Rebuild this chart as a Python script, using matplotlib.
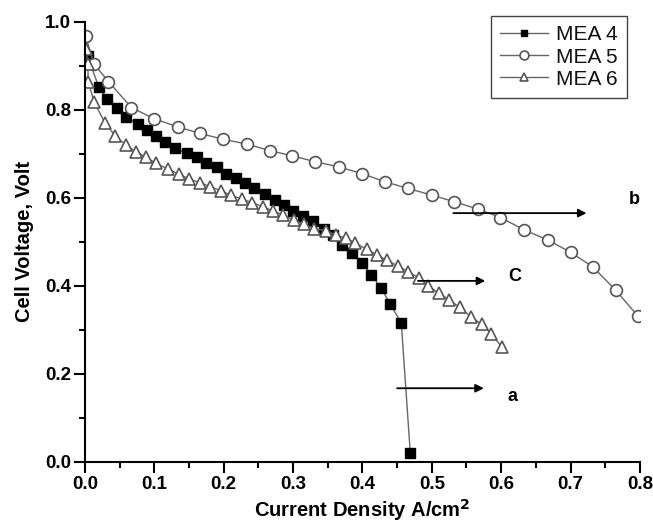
import matplotlib
matplotlib.use("Agg")
import matplotlib.pyplot as plt
from matplotlib.ticker import MultipleLocator

plt.rcParams['font.family'] = ['Liberation Sans', 'DejaVu Sans']

# polarisation curves
mea4_x = [0.004, 0.020, 0.032, 0.046, 0.059, 0.077, 0.089, 0.102, 0.116, 0.130,
          0.147, 0.161, 0.174, 0.191, 0.204, 0.218, 0.231, 0.244, 0.260, 0.274,
          0.287, 0.300, 0.315, 0.329, 0.344, 0.357, 0.370, 0.385, 0.400, 0.413,
          0.427, 0.440, 0.456, 0.469]
mea4_v = [0.921, 0.852, 0.824, 0.803, 0.784, 0.767, 0.754, 0.741, 0.726, 0.712,
          0.701, 0.692, 0.680, 0.669, 0.655, 0.644, 0.633, 0.621, 0.608, 0.595,
          0.583, 0.570, 0.558, 0.548, 0.529, 0.515, 0.493, 0.474, 0.451, 0.424,
          0.395, 0.358, 0.316, 0.020]

mea5_x = [0.001, 0.013, 0.034, 0.067, 0.099, 0.134, 0.166, 0.199, 0.233, 0.267,
          0.299, 0.332, 0.366, 0.399, 0.433, 0.466, 0.500, 0.532, 0.567, 0.599,
          0.633, 0.667, 0.700, 0.732, 0.765, 0.797]
mea5_v = [0.968, 0.904, 0.864, 0.805, 0.780, 0.761, 0.746, 0.733, 0.722, 0.707,
          0.695, 0.682, 0.670, 0.655, 0.636, 0.621, 0.606, 0.591, 0.574, 0.555,
          0.527, 0.504, 0.476, 0.443, 0.390, 0.331]

mea6_x = [0.002, 0.004, 0.005, 0.013, 0.029, 0.044, 0.059, 0.073, 0.088, 0.103,
          0.120, 0.135, 0.150, 0.166, 0.181, 0.196, 0.210, 0.226, 0.241, 0.256,
          0.271, 0.286, 0.301, 0.316, 0.330, 0.347, 0.362, 0.377, 0.390, 0.406,
          0.421, 0.435, 0.451, 0.466, 0.481, 0.495, 0.510, 0.525, 0.540, 0.556,
          0.572, 0.586, 0.601]
mea6_v = [0.938, 0.905, 0.864, 0.818, 0.770, 0.740, 0.720, 0.705, 0.692, 0.678,
          0.665, 0.654, 0.643, 0.634, 0.625, 0.616, 0.606, 0.597, 0.589, 0.580,
          0.570, 0.561, 0.549, 0.540, 0.530, 0.525, 0.515, 0.508, 0.496, 0.483,
          0.470, 0.458, 0.445, 0.432, 0.418, 0.400, 0.383, 0.368, 0.351, 0.330,
          0.312, 0.291, 0.260]

# arrow annotations
arrow_labels = ['b', 'C', 'a']
arrow_tail_x = [0.531, 0.480, 0.450]
arrow_head_x = [0.723, 0.577, 0.575]
arrow_y = [0.565, 0.411, 0.167]
label_x = [0.792, 0.620, 0.616]
label_y = [0.597, 0.420, 0.148]

fig = plt.figure(figsize=(6.53, 5.26), dpi=100)
ax = fig.add_axes([0.130, 0.1222, 0.850, 0.8365])

line_col = '#666666'
edge_col = '#555555'
ax.plot(mea4_x, mea4_v, '-', color=line_col, lw=1.0, marker='s', ms=6.5,
        mfc='black', mec='black', label='MEA 4')
ax.plot(mea5_x, mea5_v, '-', color=line_col, lw=1.0, marker='o', ms=8.5,
        mfc='white', mec=edge_col, mew=1.2, label='MEA 5')
ax.plot(mea6_x, mea6_v, '-', color=line_col, lw=1.0, marker='^', ms=8.5,
        mfc='white', mec=edge_col, mew=1.2, label='MEA 6')

for lab, x0, x1, y, tx, ty in zip(arrow_labels, arrow_tail_x, arrow_head_x,
                                  arrow_y, label_x, label_y):
    ax.annotate('', xy=(x1, y), xytext=(x0, y),
                arrowprops=dict(arrowstyle='-|>', color='black', lw=1.3,
                                mutation_scale=12, shrinkA=0, shrinkB=0))
    ax.text(tx, ty, lab, fontsize=13, fontweight='bold', ha='center', va='center')

ax.set_xlim(0, 0.8)
ax.set_ylim(0, 1.0)
ax.xaxis.set_major_locator(MultipleLocator(0.1))
ax.xaxis.set_minor_locator(MultipleLocator(0.05))
ax.yaxis.set_major_locator(MultipleLocator(0.2))
ax.yaxis.set_minor_locator(MultipleLocator(0.1))
ax.xaxis.set_major_formatter(plt.FormatStrFormatter('%.1f'))
ax.yaxis.set_major_formatter(plt.FormatStrFormatter('%.1f'))

for s in ['top', 'right']:
    ax.spines[s].set_visible(False)
for s in ['left', 'bottom']:
    ax.spines[s].set_linewidth(1.5)

ax.tick_params(which='major', direction='out', length=8, width=1.5,
               labelsize=13.5, pad=2)
ax.tick_params(which='minor', direction='out', length=4.5, width=1.5)
for t in ax.get_xticklabels() + ax.get_yticklabels():
    t.set_fontweight('bold')

ax.set_xlabel('Current Density A/cm$^\\mathbf{2}$', fontsize=14.5,
              fontweight='bold', labelpad=3)
ax.set_ylabel('Cell Voltage, Volt', fontsize=14.5, fontweight='bold', labelpad=8)

leg = ax.legend(loc='upper right', bbox_to_anchor=(0.976, 1.013),
                borderaxespad=0, fontsize=15, handlelength=2.3,
                handletextpad=0.35, labelspacing=0.15, borderpad=0.45,
                markerscale=0.75, fancybox=False, framealpha=1)
leg.get_frame().set_edgecolor('#444444')
leg.get_frame().set_linewidth(1.0)
for t in leg.get_texts():
    t.set_color('#111111')

fig.savefig('out.png', dpi=100)
